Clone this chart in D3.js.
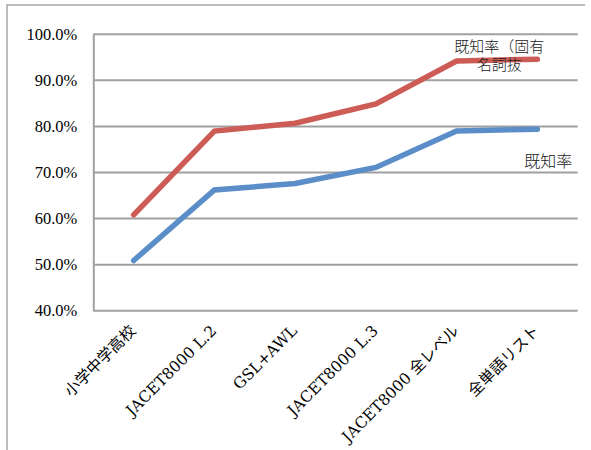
<!DOCTYPE html>
<html><head><meta charset="utf-8">
<script src="https://cdn.jsdelivr.net/npm/d3@7"></script>
<style>
html,body{margin:0;padding:0;background:#fff;}
svg{display:block;}
.ytick{font-family:"Liberation Serif","Times New Roman",serif;font-size:16.5px;}
.xtick{font-family:"DejaVu Serif","Noto Sans CJK JP",serif;font-size:15.5px;}
.jlbl{font-family:"Noto Sans CJK JP",sans-serif;font-weight:300;}
</style></head>
<body>
<script>
const categories = ["小学中学高校","JACET8000 L.2","GSL+AWL","JACET8000 L.3","JACET8000 全レベル","全単語リスト"];
const seriesNames = ["既知率（固有名詞抜","既知率"];
const properExcluded = [60.8, 79.0, 80.7, 84.9, 94.2, 94.6];
const known = [50.9, 66.2, 67.6, 71.1, 79.0, 79.4];
const yTicks = [40, 50, 60, 70, 80, 90, 100];

(function(){
const W = 591, H = 450;
const svg = d3.select("body").append("svg").attr("width", W).attr("height", H);

// outer frame
svg.append("path").attr("d", `M7,450 L7,5 L585,5`).attr("fill","none")
  .attr("stroke","#a6a6a6").attr("stroke-width",1.5);

const pL = 93.3, pR = 577.7, pT = 34.3, pB = 310.7;
const x = d3.scaleBand().domain(categories).range([pL, pR]);
const y = d3.scaleLinear().domain([40, 100]).range([pB, pT]);

// gridlines
svg.append("g").selectAll("line").data(yTicks).join("line")
  .attr("x1", pL).attr("x2", pR)
  .attr("y1", d => y(d)).attr("y2", d => y(d))
  .attr("stroke", "#a0a0a0").attr("stroke-width", 2);

// y axis
const yAxis = svg.append("g").attr("transform", `translate(${pL},0)`)
  .call(d3.axisLeft(y).tickValues(yTicks).tickSize(0).tickPadding(16).tickFormat(d => d.toFixed(1) + "%"));
yAxis.attr("font-family", null).attr("font-size", null);
yAxis.select(".domain").attr("stroke", "#a0a0a0").attr("stroke-width", 2);
yAxis.selectAll("text").attr("class", "ytick").attr("fill", "#000");

// x axis labels
const xAxis = svg.append("g").attr("transform", `translate(0,${pB})`)
  .call(d3.axisBottom(x).tickSize(0).tickPadding(0));
xAxis.attr("font-family", null).attr("font-size", null);
xAxis.select(".domain").remove();
xAxis.selectAll("text")
  .attr("class", "xtick").attr("fill", "#000")
  .attr("text-anchor", "end")
  .attr("dy", null).attr("y", 0)
  .attr("transform", `translate(3,21) rotate(-45)`);

const line = d3.line().x((d, i) => x(categories[i]) + x.bandwidth()/2).y(d => y(d));

svg.append("path").datum(known).attr("d", line).attr("fill", "none")
  .attr("stroke", "#5b8ec9").attr("stroke-width", 5.5).attr("stroke-linecap", "round").attr("stroke-linejoin", "miter");
svg.append("path").datum(properExcluded).attr("d", line).attr("fill", "none")
  .attr("stroke", "#cc5c55").attr("stroke-width", 5.5).attr("stroke-linecap", "round").attr("stroke-linejoin", "miter");

// series labels
const lastX = x(categories[5]) + x.bandwidth()/2;
svg.append("text").attr("class", "jlbl").attr("font-size", 15)
  .attr("fill", "#222").attr("text-anchor", "middle")
  .attr("x", lastX - 38).attr("y", y(properExcluded[5]) - 7.5).text("既知率（固有");
svg.append("text").attr("class", "jlbl").attr("font-size", 15)
  .attr("fill", "#222").attr("text-anchor", "middle")
  .attr("x", lastX - 38).attr("y", y(properExcluded[5]) + 10.5).text("名詞抜");

svg.append("text").attr("class", "jlbl").attr("font-size", 16)
  .attr("fill", "#222").attr("text-anchor", "middle")
  .attr("x", lastX + 11).attr("y", y(known[5]) + 38).text("既知率");
})();
</script>
</body></html>
